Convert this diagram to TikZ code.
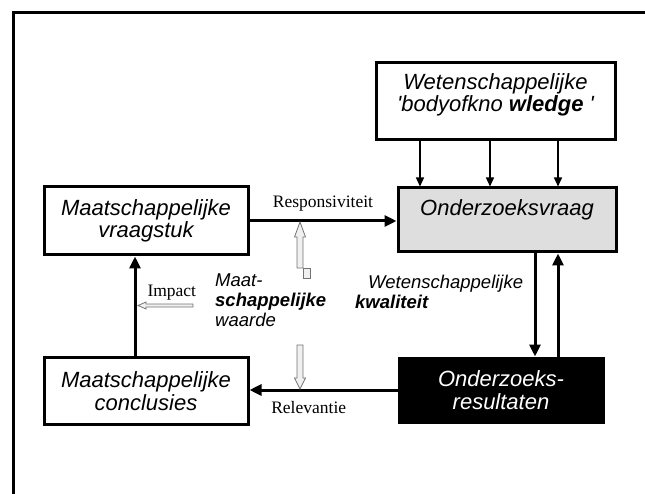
\documentclass[tikz,border=0pt]{standalone}
\usepackage{fontspec}
\setmainfont{Liberation Serif}
\newfontfamily\helv{Liberation Sans}
\usetikzlibrary{arrows.meta, positioning, calc}
\tikzset{
  box/.style  ={rectangle, draw, line width=3pt, align=center, inner sep=2pt,
                font=\helv\itshape\fontsize{22}{22.5}\selectfont},
  qbox/.style ={box, fill=black!13},
  rbox/.style ={box, fill=black, text=white},
  frame/.style={line width=3pt},
  fl/.style   ={line width=3pt, -{Triangle[length=12pt, width=11pt]}},
  thin/.style ={line width=1.4pt, -{Triangle[length=9pt, width=8pt]}},
  hol/.style  ={draw=black!55, fill=black!6, line width=0.8pt},
  lbl/.style  ={font=\fontsize{17.5}{18}\selectfont, inner sep=1pt},
  mid/.style  ={align=left, inner sep=0pt, font=\helv\itshape\fontsize{18.5}{20}\selectfont},
}

\begin{document}
\begin{tikzpicture}[x=1pt, y=-1pt]
  \useasboundingbox (0,0) rectangle (645,494);
  % kader
  \draw[frame] (13,500) -- (13,13) -- (650,13);

  \node[box,  minimum width=239pt, minimum height=77pt] (wbok)  at (495.5,101.5) {Wetenschappelijke\\'bodyofkno \textbf{wledge} '\\[-5pt]};
  \node[qbox, minimum width=218pt, minimum height=64pt, text height=16pt, text depth=24pt] (ovraag) at (507,220) {Onderzoeksvraag};
  \node[box,  minimum width=204pt, minimum height=68pt] (mvraag) at (146,221) {Maatschappelijke\\vraagstuk};
  \node[box,  minimum width=204pt, minimum height=67pt] (mconcl) at (146,391) {Maatschappelijke\\conclusies};
  \node[rbox, minimum width=204pt, minimum height=64pt] (ores)   at (501,390) {Onderzoeks-\\resultaten};

  \node[mid, anchor=north west] (mwaarde) at (215,274) {Maat-\\\textbf{schappelijke}\\waarde};
  \node[mid, anchor=north west] (wkwal)   at (355,275) {\hspace*{13pt}Wetenschappelijke\\\textbf{kwaliteit}};

  \coordinate (xd) at (535,0);
  \coordinate (xu) at (558,0);

  \foreach \x in {420,490,558}
    \draw[thin] (wbok.south -| \x,0) -- (ovraag.north -| \x,0);
  \draw[fl] (mvraag.east) -- node[lbl, above=7pt]{Responsiviteit} (mvraag.east -| ovraag.west);
  \draw[fl] (ovraag.south -| xd) -- (ores.north -| xd);
  \draw[fl] (ores.north -| xu) -- (ovraag.south -| xu);
  \draw[fl] (ores.west) -- node[lbl, below=9pt, pos=0.6]{Relevantie} (ores.west -| mconcl.east);
  \draw[fl] ([xshift=-11pt]mconcl.north) -- node[lbl, right=10pt, pos=0.64]{Impact} ([xshift=-11pt]mvraag.south);

  % holle pijlen
  \draw[hol] (297,268) -- (297,237) -- (294.5,237) -- (300,222) -- (305.5,237) -- (303,237) -- (303,268) -- cycle;
  \draw[hol] (303,268) rectangle (310,278);
  \draw[hol] (297,345) -- (303,345) -- (303,378) -- (305.5,378) -- (300,389) -- (294.5,378) -- (297,378) -- cycle;
  \draw[hol] (193,304) -- (193,307) -- (146,307) -- (146,309) -- (138,305.5) -- (146,302) -- (146,304) -- cycle;
\end{tikzpicture}
\end{document}
